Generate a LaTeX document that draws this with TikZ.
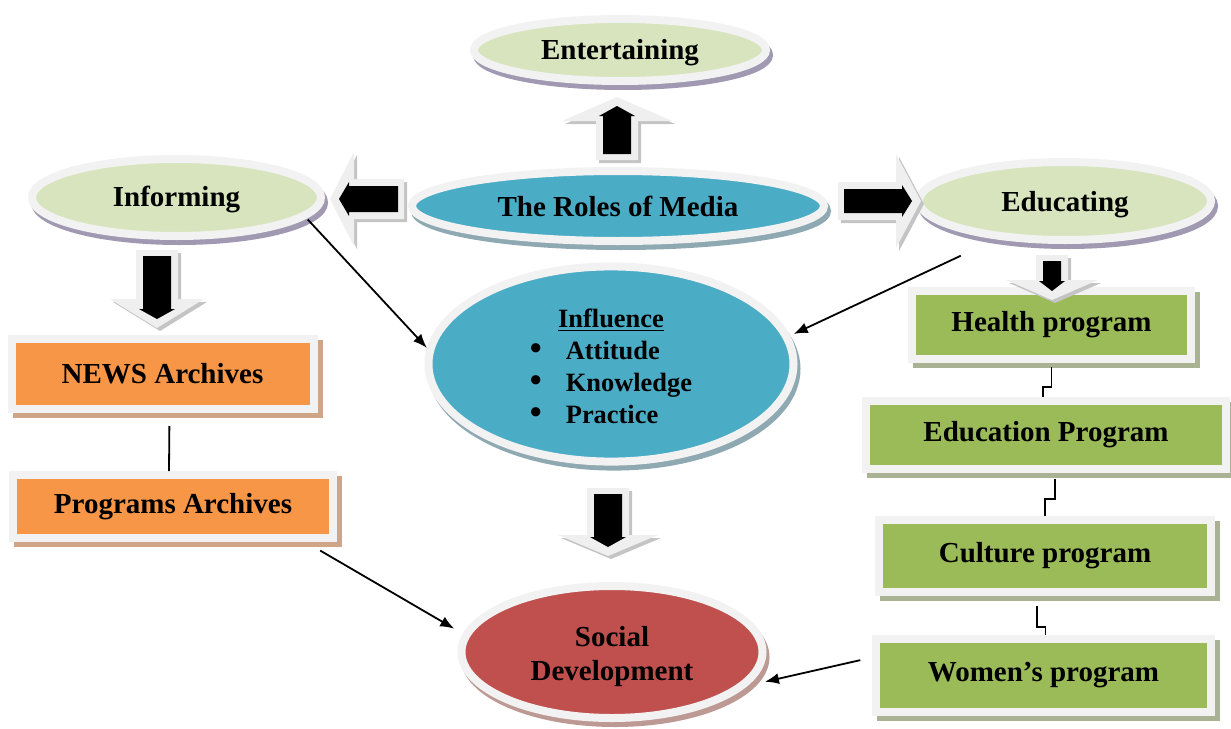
\documentclass[tikz,border=0pt]{standalone}
\usepackage{fontspec}
\setmainfont{Liberation Serif}
\usetikzlibrary{shapes.geometric}
\usetikzlibrary{shadows}
\usetikzlibrary{arrows.meta}

\definecolor{oliveLight}{HTML}{D7E4BD}
\definecolor{mediaBlue}{HTML}{4BACC6}
\definecolor{devRed}{HTML}{C0504D}
\definecolor{archOrange}{HTML}{F79646}
\definecolor{progGreen}{HTML}{9BBB59}
\definecolor{rimGray}{HTML}{F2F2F2}
\definecolor{arrowGray}{HTML}{EFEFEF}
\definecolor{shadeGray}{HTML}{C4C4C4}
\definecolor{shadePurple}{HTML}{A099B1}
\definecolor{shadeBlue}{HTML}{8FA9B2}
\definecolor{shadeRed}{HTML}{BD9994}
\definecolor{shadeTan}{HTML}{D0A587}
\definecolor{shadeGreen}{HTML}{A9B394}

\newcommand{\bigdot}{{\fontsize{17}{16}\selectfont\textbullet}}
% extra room above a text pushes it down by half of it
\newcommand{\padtop}[2]{\raisebox{0pt}[\dimexpr\height+#1\relax][\depth]{#2}}

\begin{document}
\begin{tikzpicture}[x=0.5pt,y=-0.5pt,
    role/.style={ellipse, draw=rimGray, line width=4pt, inner sep=0pt, align=center,
                 font=\bfseries\fontsize{14.5}{17}\selectfont},
    roleshade/.style={drop shadow={shadow xshift=1.5pt, shadow yshift=-2.5pt,
                 fill=#1, draw=#1, opacity=1}},
    box/.style={rectangle, draw=rimGray, line width=4pt, inner sep=0pt,
                font=\bfseries\fontsize{14.5}{17}\selectfont},
    boxshade/.style={drop shadow={shadow xshift=2.5pt, shadow yshift=-2.5pt,
                 fill=#1, draw=#1, opacity=1}},
    link/.style={line width=0.9pt, -{Latex[length=7pt,width=5.5pt]}},
    elbow/.style={line width=0.9pt},
    arrowshade/.style={fill=shadeGray},
    arrowbody/.style={fill=arrowGray}]

    \useasboundingbox (0,0) rectangle (1231,728);

    % Roles (ellipses)
    \node[role, roleshade=shadePurple, fill=oliveLight, minimum width=146pt, minimum height=31pt]
        (enter) at (620,50) {\padtop{3pt}{Entertaining}};
    \node[role, roleshade=shadePurple, fill=oliveLight, minimum width=144.5pt, minimum height=38.5pt]
        (inform) at (176.5,197.5) {\padtop{2pt}{Informing}};
    \node[role, roleshade=shadeBlue, fill=mediaBlue, minimum width=206pt, minimum height=35pt]
        (roles) at (618,206) {The Roles of Media};
    \node[role, roleshade=shadePurple, fill=oliveLight, minimum width=146pt, minimum height=39pt]
        (educ) at (1065,201) {\padtop{4pt}{Educating}};
    \node[role, roleshade=shadeBlue, fill=mediaBlue, minimum width=182.5pt, minimum height=97pt,
        font=\bfseries\fontsize{13.2}{16}\selectfont] (influence) at (611,364)
        {\padtop{5pt}{\begin{tabular}{@{}l@{\hspace{12pt}}l@{}}
          \multicolumn{2}{c}{\underline{Influence}}\\
          \bigdot & Attitude\\
          \bigdot & Knowledge\\
          \bigdot & Practice
        \end{tabular}}};
    \node[role, roleshade=shadeRed, fill=devRed, minimum width=150.5pt, minimum height=66pt]
        (social) at (612,652)
        {\padtop{4.5pt}{\begin{tabular}{@{}c@{}}Social\\Development\end{tabular}}};

    % Archives (left column)
    \node[box, boxshade=shadeTan, fill=archOrange, minimum width=151pt, minimum height=35pt]
        (news) at (162.5,374) {NEWS Archives};
    \node[box, boxshade=shadeTan, fill=archOrange, minimum width=160pt, minimum height=31.5pt]
        (prog) at (173,506.5) {Programs Archives};

    % Programs (right column)
    \node[box, boxshade=shadeGreen, fill=progGreen, minimum width=139.5pt, minimum height=34pt]
        (health) at (1051.5,325) {Health program};
    \node[box, boxshade=shadeGreen, fill=progGreen, minimum width=180pt, minimum height=34pt]
        (eduprog) at (1046,435) {Education Program};
    \node[box, boxshade=shadeGreen, fill=progGreen, minimum width=166pt, minimum height=36pt]
        (culture) at (1045,556) {Culture program};
    \node[box, boxshade=shadeGreen, fill=progGreen, minimum width=167.5pt, minimum height=36.5pt]
        (women) at (1043.5,675.5) {Women's program};

    % Block arrows: base x/y, direction, length, shaft, head width, head length
    \foreach \ax/\ay/\ang/\len/\sw/\hw/\hl in {617/160/90/63/21/55/24, 404/199/180/74/20/47/24,
        838/201/0/83/19/47/25, 157/250/-90/78/21/47/29, 1052/255/-90/45/16/46/20,
        608/488/-90/68/21/50/21}
    {
        \pgfmathsetmacro{\shx}{3*(cos(\ang)-sin(\ang))}
        \pgfmathsetmacro{\shy}{3*(sin(\ang)+cos(\ang))}
        \begin{scope}[shift={(\ax,\ay)}, rotate=\ang]
            \fill[arrowshade, shift={(\shx,\shy)}] (0,-\sw) -- (\len-\hl,-\sw) -- (\len-\hl,-\hw)
                -- (\len,0) -- (\len-\hl,\hw) -- (\len-\hl,\sw) -- (0,\sw) -- cycle;
            \fill[arrowbody] (0,-\sw) -- (\len-\hl,-\sw) -- (\len-\hl,-\hw)
                -- (\len,0) -- (\len-\hl,\hw) -- (\len-\hl,\sw) -- (0,\sw) -- cycle;
            \fill[black] (6,-\sw+7) -- (\len-19,-\sw+7) -- (\len-19,-\sw+3) -- (\len-9,0)
                -- (\len-19,\sw-3) -- (\len-19,\sw-7) -- (6,\sw-7) -- cycle;
        \end{scope}
    }

    % Thin connectors
    \draw[link, shorten <=1pt] (inform.-9) -- (influence.175);
    \draw[link, shorten <=19.5pt, shorten >=2pt] (educ.209) -- (influence.9);
    \draw[link, shorten <=8.5pt, shorten >=5pt] (prog.-15) -- (social.173);
    \draw[link, shorten <=6pt, shorten >=9pt] (women.174) -- (social.-14);
    \draw[elbow, shorten <=6.5pt] ([xshift=3.5pt]news.south) -- ([xshift=-2pt]prog.north);

    % Steps between programs
    \draw[elbow, shorten <=2pt] (health.south) -- ++(0,24) -| ([xshift=-1.5pt]eduprog.north);
    \draw[elbow] ([xshift=4.5pt]eduprog.south) ++(0,6) -- ++(0,20) -| (culture.north);
    \draw[elbow] ([xshift=-4pt]culture.south) ++(0,10) -- ++(0,21) -| ([xshift=1pt]women.north);

\end{tikzpicture}
\end{document}
